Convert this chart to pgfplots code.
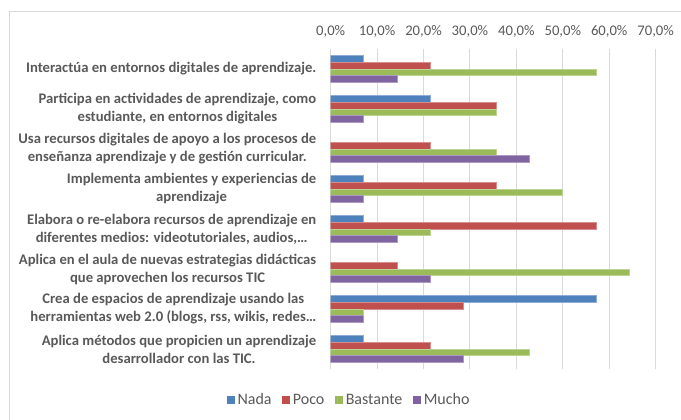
\documentclass[border=0pt]{standalone}
\usepackage{fontspec}
\setmainfont{Carlito}
\usepackage{pgfplots}
\pgfplotsset{compat=1.18}
\definecolor{nada}{HTML}{4F81BD}
\definecolor{poco}{HTML}{C0504D}
\definecolor{bastante}{HTML}{9BBB59}
\definecolor{mucho}{HTML}{8064A2}
\definecolor{gridc}{HTML}{D9D9D9}
\definecolor{textc}{HTML}{595959}
\begin{document}
\begin{tikzpicture}
\useasboundingbox (0pt,0pt) rectangle (510.75pt,-314.25pt);
% chart area frame (only top and left edge visible in the crop)
\draw[draw=gridc, line width=0.75pt] (7.1pt,-330pt) -- (7.1pt,-8.25pt) -- (530pt,-8.25pt);
\begin{axis}[
  at={(248pt,-276.75pt)}, anchor=south west,
  scale only axis, width=243.75pt, height=240pt,
  xmin=0, xmax=70, ymin=-0.5, ymax=7.5,
  xbar, bar width=5pt,
  xtick={0,10,...,70},
  xticklabels={{0,0\%},{10,0\%},{20,0\%},{30,0\%},{40,0\%},{50,0\%},{60,0\%},{70,0\%}},
  xticklabel pos=upper,
  xticklabel style={font=\fontsize{11}{13}\selectfont, text=textc, yshift=5pt},
  xmajorgrids, grid style={draw=gridc, line width=0.75pt},
  axis line style={draw=none},
  tick style={draw=none},
  ytick={0,...,7},
  yticklabels={
    {Aplica métodos que propicien un aprendizaje\\desarrollador con las TIC.},
    {Crea de espacios de aprendizaje usando las\\herramientas web 2.0 (blogs, rss, wikis, redes…},
    {Aplica en el aula de nuevas estrategias didácticas\\que aprovechen los recursos TIC},
    {Elabora o re-elabora recursos de aprendizaje en\\diferentes medios: videotutoriales, audios,…},
    {Implementa ambientes y experiencias de\\aprendizaje},
    {Usa recursos digitales de apoyo a los procesos de\\enseñanza aprendizaje y de gestión curricular.},
    {Participa en actividades de aprendizaje, como\\estudiante, en entornos digitales},
    {Interactúa en entornos digitales de aprendizaje.}},
  yticklabel style={align=center, font=\fontsize{11}{13.5}\selectfont\bfseries, text=textc, xshift=-3pt},
  legend columns=4,
  legend style={draw=none, fill=none, at={(0.058,-0.097)}, anchor=center,
    font=\fontsize{12}{14}\selectfont, text=textc,
    /tikz/every even column/.append style={column sep=6pt}},
  legend image code/.code={\fill[#1, draw=none] (0pt,-3pt) rectangle (6pt,3pt);},
]
\addplot[fill=nada, draw=nada!65!white, line width=0.5pt, bar shift=7.5pt] coordinates {
  (7.14,7) (21.43,6) (7.14,4) (7.14,3) (57.14,1) (7.14,0)};
\addlegendentry{Nada}
\addplot[fill=poco, draw=poco!65!white, line width=0.5pt, bar shift=2.5pt] coordinates {
  (21.43,7) (35.71,6) (21.43,5) (35.71,4) (57.14,3) (14.29,2) (28.57,1) (21.43,0)};
\addlegendentry{Poco}
\addplot[fill=bastante, draw=bastante!65!white, line width=0.5pt, bar shift=-2.5pt] coordinates {
  (57.14,7) (35.71,6) (35.71,5) (50.00,4) (21.43,3) (64.29,2) (7.14,1) (42.86,0)};
\addlegendentry{Bastante}
\addplot[fill=mucho, draw=mucho!65!white, line width=0.5pt, bar shift=-7.5pt] coordinates {
  (14.29,7) (7.14,6) (42.86,5) (7.14,4) (14.29,3) (21.43,2) (7.14,1) (28.57,0)};
\addlegendentry{Mucho}
\end{axis}
\end{tikzpicture}
\end{document}
